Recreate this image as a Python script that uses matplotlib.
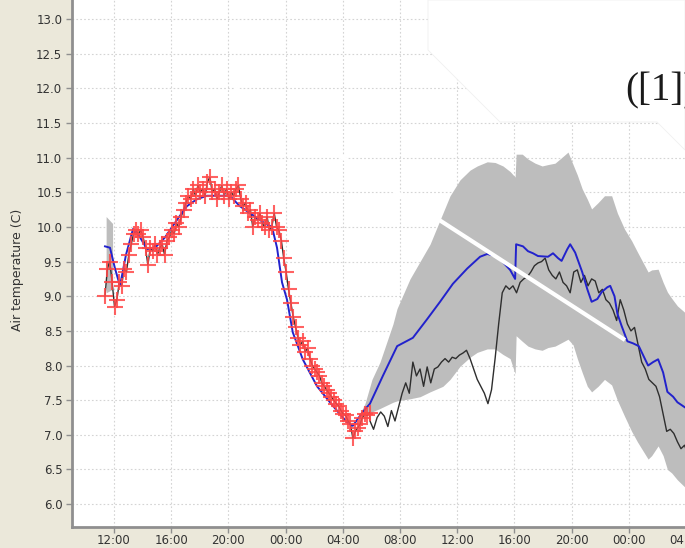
import numpy as np
import matplotlib
matplotlib.use("Agg")
import matplotlib.pyplot as plt
from matplotlib.patches import Polygon
from matplotlib.lines import Line2D

# ---- data (time axis in hours from midnight of day 1) ----
obs_start = 11.37          # first observation
obs_step = 1.0 / 6.0       # 10-minute observations
obs_temp = [
    9.0, 9.4, 9.5, 9.2, 8.85, 8.95, 9.2, 9.15, 9.4, 9.35,
    9.6, 9.75, 9.9, 9.95, 9.9, 9.95, 9.85, 9.7, 9.45, 9.7,
    9.65, 9.75, 9.6, 9.7, 9.75, 9.6, 9.8, 9.85, 9.95, 9.9,
    10.05, 10.0, 10.15, 10.25, 10.35, 10.45, 10.4, 10.55, 10.45, 10.6,
    10.5, 10.55, 10.45, 10.65, 10.72, 10.5, 10.55, 10.4, 10.5, 10.6,
    10.45, 10.55, 10.4, 10.5, 10.45, 10.55, 10.6, 10.4, 10.3, 10.35,
    10.2, 10.25, 10.0, 10.15, 10.1, 10.2, 10.05, 10.0, 10.15, 9.95,
    10.0, 10.2, 10.0, 9.95, 9.8, 9.55, 9.35, 9.1, 8.9, 8.7,
    8.55, 8.4, 8.3, 8.35, 8.2, 8.25, 8.1, 8.0, 7.95, 7.9,
    7.85, 7.75, 7.7, 7.65, 7.6, 7.55, 7.5, 7.45, 7.42, 7.35,
    7.3, 7.28, 7.2, 7.15, 6.95, 7.05, 7.1, 7.15, 7.25, 7.3,
    7.28, 7.32,
]

later_start = 29.9         # observations after the last assimilated one
later_step = 0.25
later_temp = [
    7.2, 7.08, 7.25, 7.33, 7.27, 7.12, 7.35, 7.2, 7.4, 7.6,
    7.75, 7.6, 8.05, 7.85, 7.95, 7.7, 7.98, 7.75, 7.95, 7.98,
    8.05, 8.1, 8.05, 8.12, 8.1, 8.15, 8.18, 8.22, 8.1, 7.95,
    7.8, 7.7, 7.6, 7.45, 7.65, 8.1, 8.6, 9.05, 9.15, 9.1,
    9.15, 9.05, 9.2, 9.25, 9.28, 9.35, 9.44, 9.48, 9.5, 9.55,
    9.38, 9.3, 9.25, 9.35, 9.2, 9.15, 9.05, 9.35, 9.38, 9.2,
    9.3, 9.15, 9.25, 9.22, 9.05, 9.1, 8.95, 8.9, 8.8, 8.65,
    8.95, 8.8, 8.6, 8.5, 8.55, 8.3, 8.05, 7.95, 7.8, 7.75,
    7.7, 7.55, 7.3, 7.05, 7.08, 7.02, 6.9, 6.8, 6.85, 6.7,
]

fc_hours = [
    11.37, 11.72, 12.07, 12.42, 12.84, 13.33, 13.82, 14.31, 14.87, 15.57,
    16.4, 17.1, 17.8, 18.5, 19.4, 20.1, 20.8, 21.86, 22.56, 23.05,
    23.4, 23.75, 24.1, 24.5, 25.2, 26.2, 27.3, 28.3, 28.7, 29.4,
    29.9, 30.8, 31.8, 32.9, 33.9, 34.8, 35.7, 36.7, 37.6, 38.1,
    38.66, 39.2, 39.7, 40.05, 40.12, 40.6, 40.95, 41.3, 41.65, 42.35,
    42.7, 43.05, 43.3, 43.7, 43.9, 44.25, 44.74, 45.1, 45.4, 45.8,
    46.1, 46.5, 46.7, 47.0, 47.2, 47.5, 47.9, 48.3, 48.7, 49.0,
    49.35, 49.7, 50.05, 50.4, 50.7, 51.1, 51.4, 51.9, 52.3,
]
fc_temp = [
    9.72, 9.7, 9.4, 9.15, 9.6, 9.97, 9.85, 9.68, 9.7, 9.85,
    10.1, 10.3, 10.4, 10.45, 10.45, 10.45, 10.3, 10.15, 10.05, 10.0,
    9.7, 9.2, 8.95, 8.48, 8.09, 7.7, 7.42, 7.18, 7.13, 7.33,
    7.45, 7.85, 8.28, 8.4, 8.67, 8.92, 9.18, 9.4, 9.57, 9.61,
    9.58, 9.49, 9.38, 9.25, 9.75, 9.72, 9.65, 9.62, 9.58, 9.57,
    9.62, 9.55, 9.51, 9.68, 9.75, 9.63, 9.35, 9.1, 8.92, 8.96,
    9.06, 9.13, 9.15, 9.0, 8.75, 8.57, 8.35, 8.32, 8.28, 8.15,
    8.0, 8.05, 8.09, 7.9, 7.62, 7.55, 7.47, 7.4, 7.35,
]

spinup_hours = [11.45, 11.9]
spinup_lo = [9.05, 9.1]
spinup_hi = [10.15, 10.05]

band_hours = [
    29.06, 29.55, 30.04, 30.6, 31.51, 31.79, 32.7, 33.4, 34.1, 35.0,
    35.5, 36.2, 36.9, 37.4, 38.1, 38.65, 39.2, 39.7, 40.05, 40.12,
    40.55, 40.95, 41.45, 41.94, 42.35, 42.84, 43.3, 43.75, 44.1, 44.4,
    44.74, 45.1, 45.4, 45.85, 46.3, 46.8, 47.2, 47.7, 48.2, 48.6,
    49.35, 49.6, 50.05, 50.4, 50.7, 51.0, 51.4, 51.9, 52.4,
]
band_lo = [
    7.25, 7.3, 7.33, 7.38, 7.47, 7.49, 7.52, 7.55, 7.62, 7.7,
    7.8, 7.99, 8.12, 8.19, 8.24, 8.24, 8.16, 8.1, 7.88, 8.43,
    8.35, 8.28, 8.24, 8.22, 8.26, 8.28, 8.33, 8.38, 8.3, 8.1,
    7.9, 7.7, 7.62, 7.7, 7.8, 7.72, 7.5, 7.27, 7.05, 6.9,
    6.65, 6.7, 6.84, 6.7, 6.5, 6.45, 6.35, 6.25, 6.15,
]
band_hi = [
    7.25, 7.45, 7.8, 8.05, 8.6, 8.82, 9.25, 9.5, 9.75, 10.2,
    10.45, 10.68, 10.82, 10.88, 10.94, 10.93, 10.88, 10.8, 10.72, 11.05,
    11.05, 10.98, 10.92, 10.88, 10.9, 10.92, 11.0, 11.08, 10.9, 10.75,
    10.55, 10.4, 10.26, 10.35, 10.45, 10.45, 10.2, 9.97, 9.8, 9.64,
    9.35, 9.38, 9.39, 9.2, 9.06, 8.97, 8.86, 8.77, 8.7,
]

tick_hours = [12, 16, 20, 24, 28, 32, 36, 40, 44, 48, 52]
tick_labels = ["12:00", "16:00", "20:00", "00:00", "04:00", "08:00",
               "12:00", "16:00", "20:00", "00:00", "04:00"]
y_ticks = [6.0, 6.5, 7.0, 7.5, 8.0, 8.5, 9.0, 9.5, 10.0, 10.5,
           11.0, 11.5, 12.0, 12.5, 13.0]

# ---- figure ----
W, H = 685, 548
fig = plt.figure(figsize=(W / 100, H / 100), dpi=100)
fig.patch.set_facecolor("#ebe8da")

ax = fig.add_axes([72 / W, 21 / H, 642.6 / W, 542.6 / H])
ax.set_facecolor("white")
ax.set_xlim(9.063, 54.0)
ax.set_ylim(5.67, 13.5)

obs_hours = obs_start + obs_step * np.arange(len(obs_temp))
later_hours = later_start + later_step * np.arange(len(later_temp))

ax.fill_between(spinup_hours, spinup_lo, spinup_hi, color="#bdbdbd", lw=0, zorder=1)
ax.fill_between(band_hours, band_lo, band_hi, color="#bdbdbd", lw=0, zorder=1)

actual_h = np.concatenate([obs_hours, later_hours])
actual_t = np.concatenate([obs_temp, later_temp])
ax.plot(actual_h, actual_t, color="#2e2e2e", lw=1.0, zorder=2)
ax.plot(fc_hours, fc_temp, color="#2222cc", lw=1.4, zorder=3)
ax.plot(obs_hours, obs_temp, ls="none", marker="+", ms=11, mew=1.5,
        color="#ff4646", alpha=0.85, zorder=4)

ax.set_xticks(tick_hours)
ax.set_xticklabels(tick_labels)
ax.set_yticks(y_ticks)
ax.set_yticklabels([f"{v:.1f}" for v in y_ticks])
ax.grid(True, color="#d4d4d4", ls=(0, (1.5, 2)), lw=0.8, zorder=0)
ax.set_axisbelow(True)

for side in ("top", "right"):
    ax.spines[side].set_visible(False)
for side in ("left", "bottom"):
    ax.spines[side].set_color("#8f8f8f")
    ax.spines[side].set_linewidth(2.0)
ax.tick_params(axis="both", direction="out", length=4, width=1,
               color="#8f8f8f", labelsize=8.5, labelcolor="#333333")
ax.tick_params(axis="x", pad=1.2)
ax.tick_params(axis="y", pad=3)

fig.text(18 / W, 1 - 270 / H, "Air temperature (C)", rotation=90,
         ha="center", va="center", fontsize=9, color="#333333")

# white callout overlay and pointer
poly = Polygon([(428 / W, 1.0), (428 / W, 1 - 50 / H), (500 / W, 1 - 122 / H),
                (657 / W, 1 - 122 / H), (W / W, 1 - 150 / H), (W / W, 1.0)],
               closed=True, transform=fig.transFigure, facecolor="white",
               edgecolor="#f0f0f0", lw=0.6, zorder=10)
fig.patches.append(poly)
fig.lines.append(Line2D([235 / W, 625 / W], [1 - 88 / H, 1 - 340 / H],
                        transform=fig.transFigure, color="white", lw=3.0,
                        solid_capstyle="butt", zorder=11))
fig.text(625 / W, 1 - 100 / H, "([1])", ha="left", va="baseline",
         fontsize=28, family="Liberation Serif", color="#1a1a1a", zorder=12)

fig.savefig("out.png", dpi=100)
